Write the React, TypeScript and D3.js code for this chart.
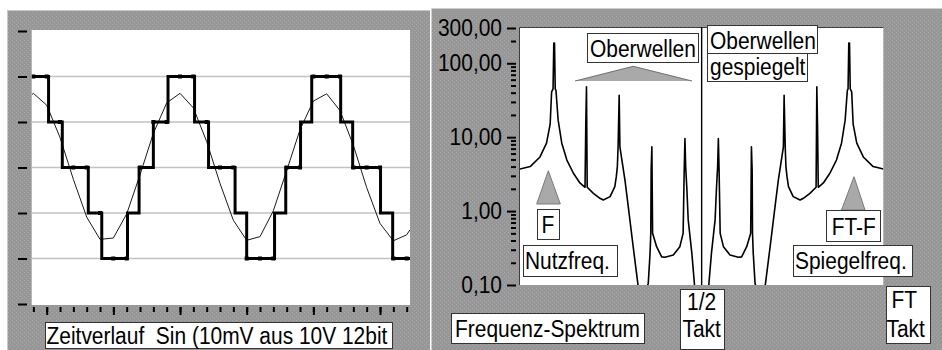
import { useRef, useEffect } from 'react'
import * as d3 from 'd3'

const sinusT = [-0.12, 0, 1, 2, 3, 4, 5, 6, 7, 8, 9, 10, 11, 12, 13, 14, 15, 16, 17, 18, 19, 20, 21, 22, 23, 24, 25, 26, 27, 28, 28.25]
const sinusWert = [1.6, 1.63, 1.37, 0.66, -0.26, -1.09, -1.58, -1.55, -1.02, -0.16, 0.75, 1.42, 1.63, 1.31, 0.57, -0.35, -1.16, -1.6, -1.52, -0.95, -0.07, 0.83, 1.46, 1.62, 1.25, 0.49, -0.44, -1.23, -1.61, -1.48, -1.37]

// quantisiertes Signal (Treppe): Umschaltzeitpunkte und Stufe
const treppeT = [-0.12, 1.14, 2.17, 4.12, 5.13, 7.06, 7.93, 9.0, 10.1, 12.09, 13.14, 15.13, 16.0, 18.09, 18.93, 20.04, 20.88, 23.05, 23.95, 26.04, 26.95, 28.25]
const treppeStufe = [2, 1, 0, -1, -2, -1, 0, 1, 2, 1, 0, -1, -2, -1, 0, 1, 2, 1, 0, -1, -2, -2]

const zeitTicks = d3.range(0, 29)
const zeitMajor = [1, 6, 11, 16, 21, 26]
const stufenTicks = [-3, -2, -1, 0, 1, 2, 3]
const rasterStufen = [-2, -1, 0, 1, 2]

// Frequenz-Spektrum: Frequenz als Bruchteil des Takts, Betrag
const spektrumF = [
  0, 0.028, 0.055, 0.073, 0.083, 0.087, 0.091, 0.093, 0.095, 0.097, 0.099, 0.105, 0.115, 0.129, 0.147, 0.165,
  0.179, 0.181, 0.183, 0.185, 0.202, 0.22, 0.229, 0.248, 0.261, 0.265, 0.268, 0.27, 0.2715, 0.273, 0.275,
  0.289, 0.298, 0.307, 0.316, 0.326, 0.337, 0.349, 0.353, 0.358, 0.36, 0.361, 0.363, 0.365, 0.376, 0.39,
  0.399, 0.422, 0.44, 0.449, 0.452, 0.454, 0.456, 0.459, 0.463, 0.473, 0.48, 0.487, 0.5,
  0.513, 0.52, 0.527, 0.537, 0.541, 0.544, 0.546, 0.548, 0.551, 0.56, 0.578, 0.601, 0.61, 0.624, 0.635,
  0.637, 0.639, 0.64, 0.642, 0.647, 0.651, 0.663, 0.674, 0.684, 0.693, 0.702, 0.711, 0.725, 0.727, 0.7285,
  0.73, 0.732, 0.735, 0.739, 0.752, 0.771, 0.78, 0.798, 0.815, 0.817, 0.819, 0.821, 0.835, 0.853, 0.871,
  0.885, 0.895, 0.901, 0.903, 0.905, 0.907, 0.909, 0.913, 0.917, 0.927, 0.945, 0.972, 1,
]
const spektrumWert = [
  3.7, 4.0, 5.4, 8.3, 15, 41, 45, 187, 187, 45, 43, 17, 8.3, 4.9, 3.25, 2.4,
  2.1, 14, 48, 2.1, 1.74, 1.49, 1.41, 1.57, 2.14, 2.9, 4.0, 7.4, 17, 37, 7.4,
  2.6, 1.15, 0.5, 0.22, 0.09, 0.03, 0.09, 0.105, 0.27, 0.5, 3.6, 7.4, 0.5, 0.33, 0.24,
  0.237, 0.255, 0.33, 0.5, 3.6, 9.6, 4.0, 2.14, 0.76, 0.27, 0.105, 0.03, 0.01,
  0.03, 0.105, 0.27, 0.76, 2.14, 4.0, 9.6, 3.6, 0.5, 0.33, 0.255, 0.237, 0.24, 0.33, 0.5,
  7.4, 3.6, 0.5, 0.27, 0.105, 0.09, 0.03, 0.09, 0.22, 0.5, 1.15, 2.6, 7.4, 37, 17,
  7.4, 4.0, 2.9, 2.14, 1.57, 1.41, 1.49, 1.74, 2.1, 48, 14, 2.1, 2.4, 3.25, 4.9,
  8.3, 17, 43, 45, 187, 187, 45, 41, 15, 8.3, 5.4, 4.0, 3.7,
]
const betragTicks = [0.1, 1, 10, 100, 300]
const betragMinor = [0.2, 0.3, 0.4, 0.5, 0.6, 0.7, 0.8, 0.9, 2, 3, 4, 5, 6, 7, 8, 9, 20, 30, 40, 50, 60, 70, 80, 90, 200]

const FONT = '"Liberation Sans", Arial, sans-serif'
const deFormat = d3.formatLocale({ decimal: ',', thousands: '.', grouping: [3], currency: ['', ' €'] }).format('.2f')

export default function App() {
  const svgRef = useRef<SVGSVGElement>(null)

  useEffect(() => {
    if (!svgRef.current) return
    const svg = d3.select(svgRef.current)
    svg.selectAll('*').remove()

    const width = 942
    const height = 350
    svg.attr('width', width).attr('height', height).attr('viewBox', `0 0 ${width} ${height}`)

    const defs = svg.append('defs')
    const pat = defs.append('pattern').attr('id', 'raster')
      .attr('width', 4).attr('height', 4).attr('patternUnits', 'userSpaceOnUse')
    pat.append('rect').attr('width', 4).attr('height', 4).attr('fill', '#979797')
    pat.append('rect').attr('x', 0).attr('y', 0).attr('width', 1).attr('height', 1).attr('fill', '#a8a8a8')
    pat.append('rect').attr('x', 2).attr('y', 2).attr('width', 1).attr('height', 1).attr('fill', '#a8a8a8')

    svg.append('rect').attr('width', width).attr('height', height).attr('fill', '#fff')

    // Panels
    svg.append('rect').attr('x', 7).attr('y', 10).attr('width', 423).attr('height', 340).attr('fill', 'url(#raster)')
    svg.append('rect').attr('x', 432).attr('y', 8).attr('width', 510).attr('height', 342).attr('fill', 'url(#raster)')
    svg.append('path').attr('d', 'M7.5,350V10.5H430').attr('fill', 'none').attr('stroke', '#c8c8c8')
    svg.append('path').attr('d', 'M431.5,350V8.5H942').attr('fill', 'none').attr('stroke', '#cfcfcf')

    // ---------- linkes Diagramm: Zeitverlauf ----------
    const xT = d3.scaleLinear().domain([-0.125, 28.25]).range([31.7, 410])
    const yL = d3.scaleLinear().domain([-3, 3]).range([304, 31])
    const [lx0, lx1] = xT.range()

    svg.append('rect').attr('x', lx0).attr('y', 30).attr('width', lx1 - lx0).attr('height', 275).attr('fill', '#fff')
    defs.append('clipPath').attr('id', 'clipZeit')
      .append('rect').attr('x', lx0).attr('y', 30).attr('width', lx1 - lx0).attr('height', 275)

    svg.append('g').selectAll('line').data(rasterStufen).join('line')
      .attr('x1', lx0).attr('x2', lx1)
      .attr('y1', d => yL(d)).attr('y2', d => yL(d))
      .attr('stroke', '#c2c2c2').attr('stroke-width', 1.5)

    const yAxisL = svg.append('g').attr('transform', 'translate(27,0)')
      .call(d3.axisLeft(yL).tickValues(stufenTicks).tickSize(9).tickFormat(() => ''))
    yAxisL.select('.domain').remove()
    yAxisL.selectAll('line').attr('stroke', '#000').attr('stroke-width', 2)

    const xAxisMinor = svg.append('g').attr('transform', 'translate(0,307)')
      .call(d3.axisBottom(xT).tickValues(zeitTicks).tickSize(5).tickFormat(() => ''))
    xAxisMinor.select('.domain').remove()
    xAxisMinor.selectAll('line').attr('stroke', '#000').attr('stroke-width', 2)
    const xAxisMajor = svg.append('g').attr('transform', 'translate(0,307)')
      .call(d3.axisBottom(xT).tickValues(zeitMajor).tickSize(8).tickFormat(() => ''))
    xAxisMajor.select('.domain').remove()
    xAxisMajor.selectAll('line').attr('stroke', '#000').attr('stroke-width', 2)

    const zeit = svg.append('g').attr('clip-path', 'url(#clipZeit)')

    const sinusLine = d3.line<number>()
      .x((_, i) => xT(sinusT[i]))
      .y(d => yL(d))
    zeit.append('path').datum(sinusWert).attr('d', sinusLine)
      .attr('fill', 'none').attr('stroke', '#1a1a1a').attr('stroke-width', 1)

    const treppeLine = d3.line<number>()
      .x((_, i) => xT(treppeT[i]))
      .y(d => yL(d))
      .curve(d3.curveStepAfter)
    zeit.append('path').datum(treppeStufe).attr('d', treppeLine)
      .attr('fill', 'none').attr('stroke', '#000').attr('stroke-width', 3)

    // Abtastpunkte auf der Treppe
    zeit.selectAll('rect.abtast').data(zeitTicks).join('rect')
      .attr('class', 'abtast')
      .attr('x', d => xT(d) - 2).attr('width', 4).attr('height', 4)
      .attr('y', d => yL(treppeStufe[Math.max(0, d3.bisectRight(treppeT, d) - 1)]) - 2)
      .attr('fill', '#000')

    // ---------- rechtes Diagramm: Frequenz-Spektrum ----------
    const xF = d3.scaleLinear().domain([0, 1]).range([520, 883.3])
    const yV = d3.scaleLog().domain([0.1, 300]).range([285, 28])
    const [fx0, fx1] = xF.range()

    svg.append('rect').attr('x', fx0).attr('y', 27.3).attr('width', fx1 - fx0).attr('height', 285 - 27.3).attr('fill', '#fff')
    svg.append('path').attr('d', `M${fx0 - 0.5},285V27.5H${fx1}`).attr('fill', 'none').attr('stroke', '#3c3c3c')
    defs.append('clipPath').attr('id', 'clipSpek')
      .append('rect').attr('x', fx0).attr('y', 27.3).attr('width', fx1 - fx0).attr('height', 285 - 27.3)

    const yAxisMinor = svg.append('g').attr('transform', 'translate(516,0)')
      .call(d3.axisLeft(yV).tickValues(betragMinor).tickSize(5).tickFormat(() => ''))
    yAxisMinor.select('.domain').remove()
    yAxisMinor.selectAll('line').attr('stroke', '#000').attr('stroke-width', 2)
    const yAxisMajor = svg.append('g').attr('transform', 'translate(516,0)')
      .call(d3.axisLeft(yV).tickValues(betragTicks).tickSize(9).tickPadding(5).tickFormat(d => deFormat(d as number)))
    yAxisMajor.select('.domain').remove()
    yAxisMajor.selectAll('line').attr('stroke', '#000').attr('stroke-width', 2)
    yAxisMajor.selectAll('text').attr('fill', '#000').style('font-size', '23px').style('font-family', FONT)

    // Mittellinie bei 1/2 Takt
    svg.append('line').attr('x1', xF(0.5)).attr('x2', xF(0.5)).attr('y1', 27.3).attr('y2', 285)
      .attr('stroke', '#000').attr('stroke-width', 1.4)

    const spektrumLine = d3.line<number>()
      .x((_, i) => xF(spektrumF[i]))
      .y(d => yV(d))
    svg.append('g').attr('clip-path', 'url(#clipSpek)')
      .append('path').datum(spektrumWert).attr('d', spektrumLine)
      .attr('fill', 'none').attr('stroke', '#000').attr('stroke-width', 1.6).attr('stroke-linejoin', 'round')

    // Oberwellen-Markierung und Dreiecke
    svg.append('path').attr('d', 'M575,81L633.3,66.3L692,81Z').attr('fill', '#a9a9a9').attr('stroke', 'none')
    svg.append('path').attr('d', 'M575,81L633.3,66.3L692,81').attr('fill', 'none').attr('stroke', '#6e6e6e')
    svg.append('path').attr('d', 'M536.7,204L548.3,170.7L560.3,204Z').attr('fill', '#a9a9a9').attr('stroke', '#7a7a7a')
    svg.append('path').attr('d', 'M841.5,210L854,176.7L865,210Z').attr('fill', '#a9a9a9').attr('stroke', '#7a7a7a')

    // Beschriftungen
    const box = (x: number, y: number, w: number, h: number) =>
      svg.append('rect').attr('x', Math.round(x) + 0.5).attr('y', Math.round(y) + 0.5)
        .attr('width', Math.round(w)).attr('height', Math.round(h))
        .attr('fill', '#fff').attr('stroke', '#333').attr('stroke-width', 1)
    const label = (t: string, x: number, y: number, anchor = 'start') =>
      svg.append('text').attr('x', x).attr('y', y).attr('text-anchor', anchor)
        .style('font-family', FONT).style('font-size', '23px').style('white-space', 'pre')
        .attr('fill', '#000').text(t)

    box(45, 322, 347, 26)
    label('Zeitverlauf  Sin (10mV aus 10V 12bit', 46.5, 343.5)

    box(587, 33, 111, 29)
    label('Oberwellen', 590, 56.5)
    box(707, 25, 110, 28)
    label('Oberwellen', 710, 48.5)
    box(707, 53, 100, 28)
    label('gespiegelt', 710, 74.5)

    box(537, 209, 22, 30)
    label('F', 548, 232.7, 'middle')
    box(523, 245, 94, 31)
    label('Nutzfreq.', 525, 268.5)
    box(826, 210, 54, 31)
    label('FT-F', 831.7, 235)
    box(793, 245, 119, 31)
    label('Spiegelfreq.', 795, 268.5)

    box(451, 313, 193, 30)
    label('Frequenz-Spektrum', 455, 337)
    box(680, 289, 44, 60)
    label('1/2', xF(0.5), 310, 'middle')
    label('Takt', xF(0.5), 337.3, 'middle')
    box(886, 286, 44, 57)
    label('FT', 891.5, 308.3)
    label('Takt', 886.5, 336.7)

    // schmale Systemschrift nachbilden
    svg.selectAll<SVGTextElement, unknown>('text').each(function () {
      const w = this.getComputedTextLength()
      if (w > 0) {
        this.setAttribute('textLength', String(w * 0.91))
        this.setAttribute('lengthAdjust', 'spacingAndGlyphs')
      }
    })
  }, [])

  return <svg ref={svgRef} style={{ position: 'absolute', left: 0, top: 0, display: 'block' }} />
}
